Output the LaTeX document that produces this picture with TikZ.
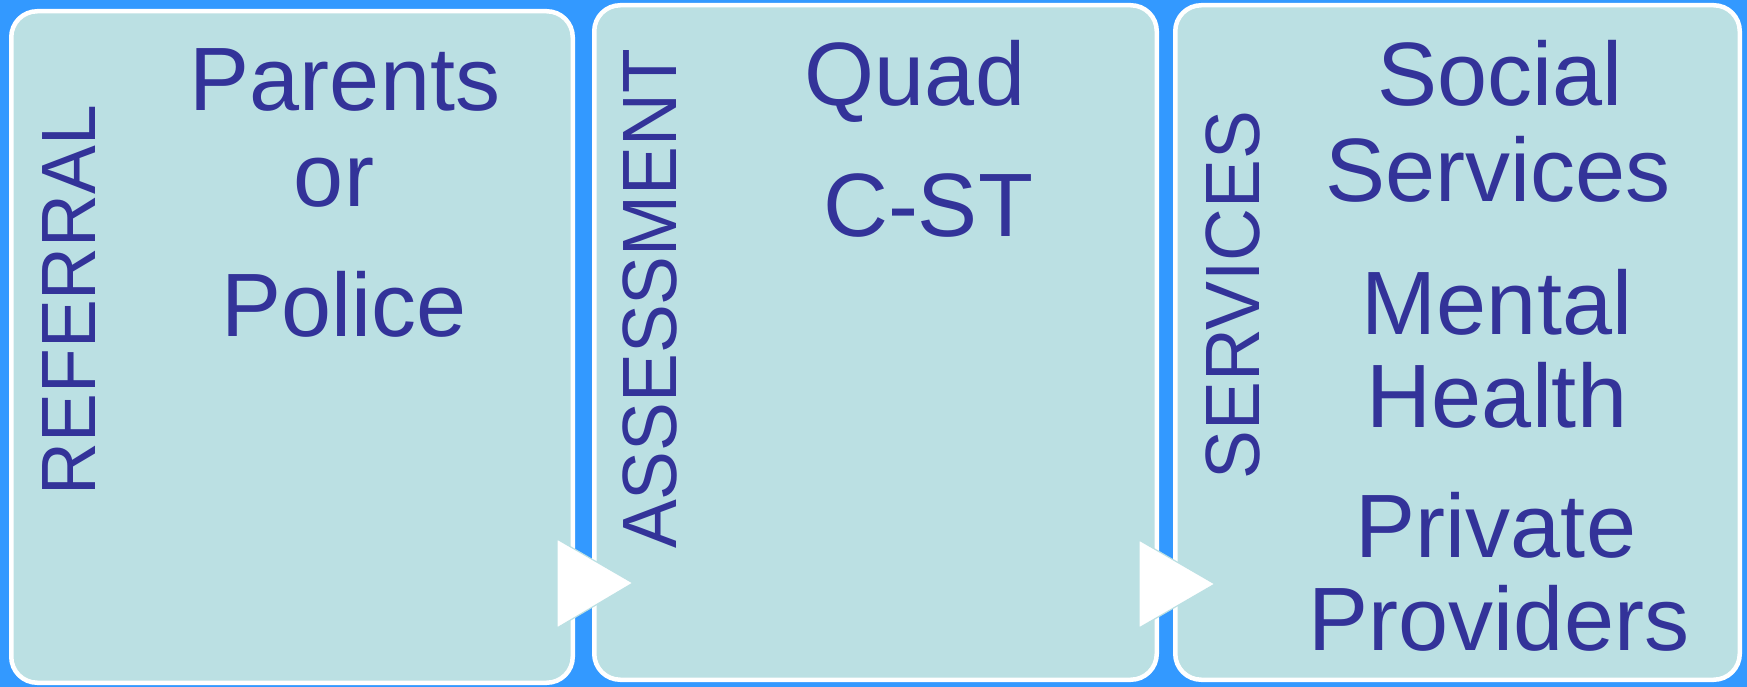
\documentclass[tikz,border=0pt]{standalone}
\usepackage{fontspec}
\setmainfont{Liberation Sans}
\newfontfamily\vfont{Liberation Sans}[FakeStretch=0.95]
\definecolor{bgblue}{HTML}{3399FF}
\definecolor{boxfill}{HTML}{BBE0E3}
\definecolor{txt}{HTML}{333399}
\tikzset{
  box/.style={draw=white, line width=4.5pt, fill=boxfill, rounded corners=26pt, rectangle, inner sep=0pt},
  main/.style={text=txt, font=\fontsize{90}{90}\selectfont, anchor=base, inner sep=0pt},
  side/.style={text=txt, font=\vfont\fontsize{77}{77}\selectfont, anchor=base, rotate=90, inner sep=0pt},
  tri/.style={fill=white, draw=boxfill, line width=1.2pt, line join=miter}
}
\begin{document}
\begin{tikzpicture}[x=1pt,y=-1pt]
\fill[bgblue] (0,0) rectangle (1747,687);
\useasboundingbox (0,0) rectangle (1747,687);
% boxes
\node[box, minimum width=561.5pt, minimum height=671.5pt] (b1) at (292,347) {};
\node[box, minimum width=562.5pt, minimum height=674.5pt] (b2) at (875.5,342.5) {};
\node[box, minimum width=564.5pt, minimum height=674.5pt] (b3) at (1457.5,342.5) {};
% arrows
\coordinate (a1) at (557,539);
\coordinate (a2) at (1139,540);
\draw[tri] (a1) -- ++(0,89) -- ++(76,-45) -- cycle;
\draw[tri] (a2) -- ++(0,88) -- ++(76,-44) -- cycle;
% side labels
\node[side] (l1) at (95,300) {REFERRAL};
\node[side] (l2) at (676,299) {ASSESSMENT};
\node[side] (l3) at (1259,295) {SERVICES};
% box 1
\node[main] (t1a) at (345,111) {Parents};
\node[main] (t1b) at (334,207) {or};
\node[main] (t1c) at (344,336) {Police};
% box 2
\node[main] (t2a) at (915,106) {Quad};
\node[main] (t2b) at (928,236) {C-ST};
% box 3
\node[main] (t3a) at (1500,106) {Social};
\node[main] (t3b) at (1498,201) {Services};
\node[main] (t3c) at (1497,334) {Mental};
\node[main] (t3d) at (1497,427) {Health};
\node[main] (t3e) at (1496,557) {Private};
\node[main] (t3f) at (1499,650) {Providers};
\end{tikzpicture}
\end{document}
